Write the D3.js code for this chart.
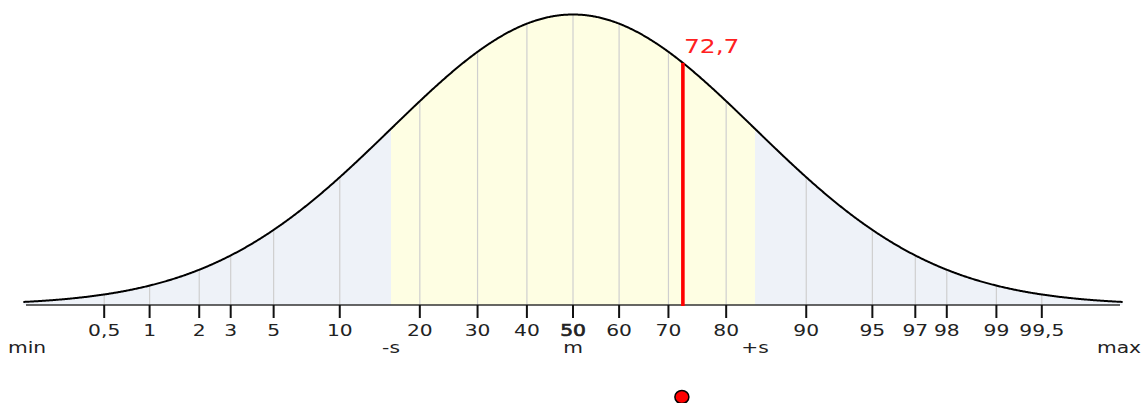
<!DOCTYPE html>
<html>
<head>
<meta charset="utf-8">
<script src="https://cdn.jsdelivr.net/npm/d3@7"></script>
<style>
  html, body { margin: 0; padding: 0; background: #fff; }
  svg { display: block; }
  text { font-family: "DejaVu Sans", Verdana, sans-serif; fill: #222; }
</style>
</head>
<body>
<svg id="chart" width="1142" height="403"></svg>
<script>
// Percentile ticks along the bell curve
const percentiles = [0.5, 1, 2, 3, 5, 10, 20, 30, 40, 50, 60, 70, 80, 90, 95, 97, 98, 99, 99.5];
const tickLabels = ["0,5", "1", "2", "3", "5", "10", "20", "30", "40", "50", "60", "70", "80", "90", "95", "97", "98", "99", "99,5"];
// Reference marks in standard-deviation units
const sigmaPositions = [-3, -1, 0, 1, 3];
const sigmaLabels = ["min", "-s", "m", "+s", "max"];
// Highlighted result (percentile)
const resultValue = 72.7;
const resultLabel = "72,7";

// Inverse standard normal CDF (Acklam's rational approximation)
function normInv(p) {
  const a = [-3.969683028665376e+01, 2.209460984245205e+02, -2.759285104469687e+02, 1.383577518672690e+02, -3.066479806614716e+01, 2.506628277459239e+00];
  const b = [-5.447609879822406e+01, 1.615858368580409e+02, -1.556989798598866e+02, 6.680131188771972e+01, -1.328068155288572e+01];
  const c = [-7.784894002430293e-03, -3.223964580411365e-01, -2.400758277161838e+00, -2.549732539343734e+00, 4.374664141464968e+00, 2.938163982698783e+00];
  const d = [7.784695709041462e-03, 3.224671290700398e-01, 2.445134137142996e+00, 3.754408661907416e+00];
  const pl = 0.02425, ph = 1 - pl;
  let q, r;
  if (p < pl) {
    q = Math.sqrt(-2 * Math.log(p));
    return (((((c[0]*q+c[1])*q+c[2])*q+c[3])*q+c[4])*q+c[5]) / ((((d[0]*q+d[1])*q+d[2])*q+d[3])*q+1);
  } else if (p <= ph) {
    q = p - 0.5; r = q * q;
    return (((((a[0]*r+a[1])*r+a[2])*r+a[3])*r+a[4])*r+a[5])*q / (((((b[0]*r+b[1])*r+b[2])*r+b[3])*r+b[4])*r+1);
  } else {
    q = Math.sqrt(-2 * Math.log(1 - p));
    return -(((((c[0]*q+c[1])*q+c[2])*q+c[3])*q+c[4])*q+c[5]) / ((((d[0]*q+d[1])*q+d[2])*q+d[3])*q+1);
  }
}
const pdf = z => Math.exp(-0.5 * z * z) / Math.sqrt(2 * Math.PI);

const svg = d3.select("#chart");
const x = d3.scaleLinear().domain([-3, 3]).range([27, 1119]);
const y = d3.scaleLinear().domain([0, pdf(0)]).range([305, 14.5]);
const zMin = -3.02, zMax = 3.02;
const SX = 1.35; // horizontal stretch of lettering

const zs = d3.range(zMin, zMax + 1e-9, 0.005);
const seg = (a, b) => zs.filter(z => z >= a && z <= b).concat([b]);

const area = d3.area().x(z => x(z)).y0(y(0)).y1(z => y(pdf(z)));
// Shaded bands: outer tails and the +/- 1 s middle
[[zMin, -1, "#eef2f8"], [-1, 1, "#fefee3"], [1, zMax, "#eef2f8"]].forEach(([a, b, col]) => {
  svg.append("path").attr("d", area([a].concat(seg(a, b)))).attr("fill", col);
});

// Vertical grid lines at each percentile
const zTicks = percentiles.map(p => normInv(p / 100));
svg.append("g").selectAll("line").data(zTicks).join("line")
  .attr("x1", z => x(z)).attr("x2", z => x(z))
  .attr("y1", y(0)).attr("y2", z => y(pdf(z)))
  .attr("stroke", "#cfcfcf").attr("stroke-width", 1.2);

// Bell curve
const line = d3.line().x(z => x(z)).y(z => y(pdf(z)));
svg.append("path").attr("d", line(zs)).attr("fill", "none")
  .attr("stroke", "#000").attr("stroke-width", 2);

// Axis line and percentile ticks
svg.append("line").attr("x1", 26).attr("x2", 1120).attr("y1", 305).attr("y2", 305)
  .attr("stroke", "#333").attr("stroke-width", 1.6);
svg.append("g").selectAll("line").data(zTicks).join("line")
  .attr("x1", z => x(z)).attr("x2", z => x(z))
  .attr("y1", 305).attr("y2", 318)
  .attr("stroke", "#111").attr("stroke-width", 2);

// Median label gets a slightly heavier outline instead of full bold
svg.append("g").selectAll("text").data(zTicks).join("text")
  .attr("transform", z => `translate(${x(z)},335.5) scale(${SX},1)`)
  .attr("text-anchor", "middle").attr("font-size", 15)
  .attr("stroke", (z, i) => percentiles[i] === 50 ? "#222" : "none")
  .attr("stroke-width", 0.6)
  .text((z, i) => tickLabels[i]);

svg.append("g").selectAll("text").data(sigmaPositions).join("text")
  .attr("transform", z => `translate(${x(z)},353) scale(${SX},1)`)
  .attr("text-anchor", "middle").attr("font-size", 15)
  .text((z, i) => sigmaLabels[i]);

// Result marker
const zr = normInv(resultValue / 100);
svg.append("line").attr("x1", x(zr)).attr("x2", x(zr))
  .attr("y1", y(pdf(zr))).attr("y2", 306)
  .attr("stroke", "#ff0000").attr("stroke-width", 3.6);
svg.append("text")
  .attr("transform", `translate(${x(zr) + 1},53) scale(1.25,1)`)
  .attr("font-size", 20).style("fill", "#ff2020")
  .text(resultLabel);
svg.append("ellipse").attr("cx", x(zr) - 1).attr("cy", 397)
  .attr("rx", 7).attr("ry", 6.5)
  .attr("fill", "#ff0000").attr("stroke", "#000").attr("stroke-width", 1.5);
</script>
</body>
</html>
